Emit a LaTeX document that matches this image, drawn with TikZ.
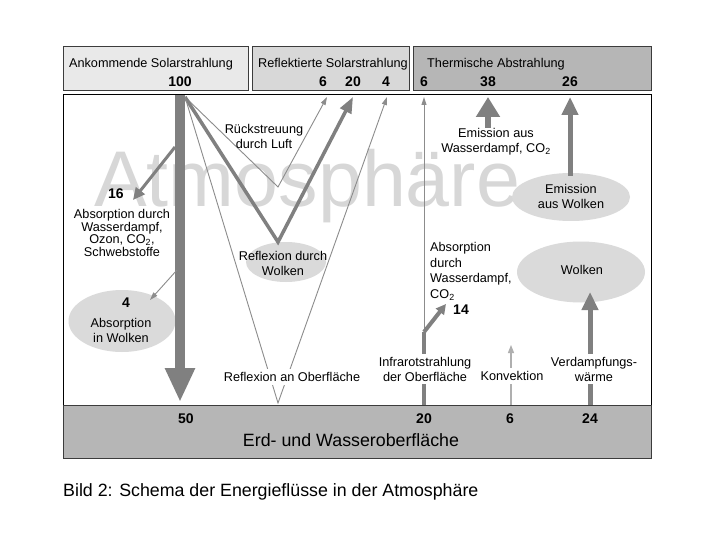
\documentclass[tikz,border=0pt]{standalone}
\usepackage{fontspec}
\setmainfont{Liberation Sans}
\usetikzlibrary{arrows.meta,shapes.geometric}
\definecolor{arrowgray}{RGB}{128,128,128}
\definecolor{thingray}{RGB}{140,140,140}
\definecolor{lightgray2}{RGB}{175,175,175}
\definecolor{ellgray}{RGB}{218,218,218}
\definecolor{wmgray}{RGB}{215,215,215}
\definecolor{hdrA}{RGB}{233,233,233}
\definecolor{hdrB}{RGB}{216,216,216}
\definecolor{hdrC}{RGB}{182,182,182}
\definecolor{bordergray}{RGB}{60,60,60}
\begin{document}
\begin{tikzpicture}[x=1pt,y=-1pt,
  lbl/.style={font=\fontsize{12.7}{15}\selectfont, align=center, inner sep=0pt},
  wlbl/.style={lbl, fill=white, inner xsep=1pt, inner ysep=3pt},
  num/.style={font=\bfseries\fontsize{14}{14}\selectfont, inner sep=0pt},
  cloudell/.style={ellipse, fill=ellgray, draw=none, inner sep=0pt},
  hdrbox/.style={draw=bordergray, line width=1pt},
  thinline/.style={draw=thingray, line width=0.9pt},
  thinarrow/.style={thinline, -{Triangle[length=8pt,width=5pt]}},
  bigarrow/.style={draw=arrowgray, line width=10pt, -{Triangle[length=34pt,width=28pt]}},
  vthick/.style={draw=arrowgray, line width=3.5pt, line join=miter, -{Triangle[length=16pt,width=12pt]}},
  midarrow/.style={draw=arrowgray, line width=3pt, -{Triangle[length=12pt,width=11pt]}},
  irthick/.style={draw=arrowgray, line width=4pt},
  fatarrow/.style={draw=arrowgray, line width=5pt, -{Triangle[length=18pt,width=16pt]}},
  widearrow/.style={draw=arrowgray, line width=6pt, -{Triangle[length=20pt,width=23pt]}}
]
\useasboundingbox (0,0) rectangle (720,540);
\fill[white] (0,0) rectangle (720,540);

% watermark
\node[font=\fontsize{79}{79}\selectfont, text=wmgray, anchor=base west, inner sep=0pt] (wm) at (94,207) {Atmosphäre};

% ellipses
\node[cloudell, minimum width=107pt, minimum height=62pt] (ell4) at (122,321) {};
\node[cloudell, minimum width=80pt, minimum height=40pt] (ellref) at (286,262) {};
\node[cloudell, minimum width=118pt, minimum height=48pt] (ellem) at (571,197) {};
\node[cloudell, minimum width=128pt, minimum height=61pt] (ellw) at (581,272) {};

% coordinates
\coordinate (top100) at (180,95);
\coordinate (bot50) at (180,402);
\coordinate (vo) at (185,97);
\coordinate (v1) at (278,187);
\coordinate (v2) at (278,242);
\coordinate (v3) at (278,403);
\coordinate (r6) at (327,97);
\coordinate (r20) at (353,97);
\coordinate (r4) at (387,97);
\coordinate (s16) at (175,147);
\coordinate (t16) at (133,200);
\coordinate (s4) at (177,270);
\coordinate (t4) at (150,300);
\coordinate (g20) at (424,405);
\coordinate (irj) at (424,332);
\coordinate (t6) at (424,97);
\coordinate (t14) at (446,304);
\coordinate (g6) at (511,405);
\coordinate (t6k) at (511,345);
\coordinate (g24) at (590,405);
\coordinate (t24) at (590,292);
\coordinate (s26) at (570,176);
\coordinate (t26) at (570,97);
\coordinate (s38) at (488,128);
\coordinate (t38) at (488,97);

% solar down arrow
\draw[bigarrow] (top100) -- (bot50);

% reflections
\draw[thinarrow] (vo) -- (v1) -- (r6);
\draw[vthick] (vo) -- (v2) -- (r20);
\draw[thinarrow] (vo) -- (v3) -- (r4);

% absorption arrows
\draw[midarrow] (s16) -- (t16);
\draw[thinarrow] (s4) -- (t4);

% infrared
\draw[irthick] (g20) -- (irj);
\draw[thinarrow] (irj) -- (t6);
\draw[irthick, -{Triangle[length=10pt,width=10pt]}] (irj) -- (t14);

% convection, evaporation, emission
\draw[draw=lightgray2, line width=1.2pt, -{Triangle[length=8pt,width=6pt]}] (g6) -- (t6k);
\draw[fatarrow] (g24) -- (t24);
\draw[fatarrow] (s26) -- (t26);
\draw[widearrow] (s38) -- (t38);

% labels in atmosphere
\node[lbl] (rueck) at (264,136) {Rückstreuung\\durch Luft};
\node[num] (n16) at (116,194) {16};
\node[lbl, font=\fontsize{12.7}{12.4}\selectfont] (abs16) at (122,233) {Absorption durch\\Wasserdampf,\\Ozon, CO\textsubscript{2},\\Schwebstoffe};
\node[num] (n4) at (126,303) {4};
\node[lbl] (abs4) at (121,330.5) {Absorption\\in Wolken};
\node[lbl] (refw) at (283,263) {Reflexion durch\\Wolken};
\node[wlbl] (refo) at (292,377) {Reflexion an Oberfläche};
\node[lbl] (em38) at (496,141.5) {Emission aus\\Wasserdampf, CO\textsubscript{2}};
\node[lbl] (emw) at (571,196) {Emission\\aus Wolken};
\node[lbl] (wolk) at (582,270) {Wolken};
\node[lbl, align=left, anchor=west, font=\fontsize{12.7}{15.5}\selectfont] (abs14) at (430,271.5) {Absorption\\durch\\Wasserdampf,\\CO\textsubscript{2}};
\node[num] (n14) at (461,310) {14};
\node[wlbl] (ir) at (425,369) {Infrarotstrahlung\\der Oberfläche};
\node[wlbl] (konv) at (512,376) {Konvektion};
\node[wlbl] (verd) at (594,369) {Verdampfungs-\\wärme};

% main frame
\draw[black, line width=1pt] (63,95) rectangle (651,405);

% header boxes
\draw[hdrbox, fill=hdrA] (63,47) rectangle (248,91);
\draw[hdrbox, fill=hdrB] (252,47) rectangle (409,91);
\draw[hdrbox, fill=hdrC] (413,47) rectangle (651,91);
\node[lbl, anchor=base] (hA) at (151,68) {Ankommende Solarstrahlung};
\node[lbl, anchor=base] (hB) at (333,68) {Reflektierte Solarstrahlung};
\node[lbl, anchor=base] (hC) at (496,68) {Thermische Abstrahlung};
\node[num, anchor=base] (n100) at (180,87) {100};
\node[num, anchor=base] (nr6) at (323,87) {6};
\node[num, anchor=base] (nr20) at (353,87) {20};
\node[num, anchor=base] (nr4) at (386,87) {4};
\node[num, anchor=base] (nt6) at (424,87) {6};
\node[num, anchor=base] (nt38) at (488,87) {38};
\node[num, anchor=base] (nt26) at (570,87) {26};

% ground box
\draw[hdrbox, fill=hdrC] (63,405) rectangle (651,458);
\node[num, anchor=base] (b50) at (186,423) {50};
\node[num, anchor=base] (b20) at (424,423) {20};
\node[num, anchor=base] (b6) at (510,423) {6};
\node[num, anchor=base] (b24) at (590,423) {24};
\node[font=\fontsize{17.8}{18}\selectfont, anchor=base, inner sep=0pt] (ground) at (351,446) {Erd- und Wasseroberfläche};

% caption
\node[font=\fontsize{17.8}{18}\selectfont, anchor=base west, inner sep=0pt] (cap) at (63,496) {Bild 2: Schema der Energieflüsse in der Atmosphäre};
\end{tikzpicture}
\end{document}
